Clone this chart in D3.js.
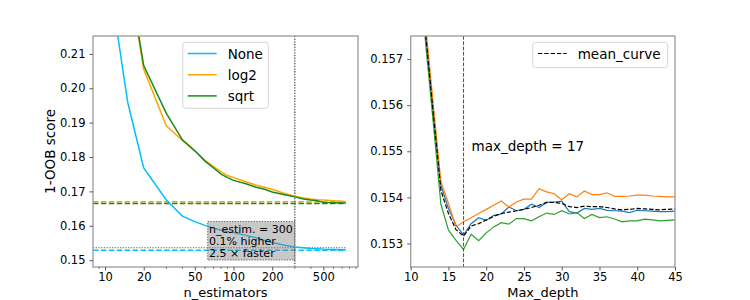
<!DOCTYPE html>
<html>
<head>
<meta charset="utf-8">
<script src="https://cdnjs.cloudflare.com/ajax/libs/d3/7.8.5/d3.min.js"></script>
<style>
  body { margin: 0; background: #fff; }
  svg text { font-family: "DejaVu Sans", sans-serif; fill: #000; }
</style>
</head>
<body>
<svg id="chart" width="750" height="300"></svg>
<script>
// ---- left panel : 1-OOB score vs n_estimators
var nEstimators = [10, 15, 20, 30, 40, 50, 60, 70, 80, 90, 100, 125, 150, 175, 200, 250, 300, 350, 400, 450, 500, 600, 700, 750];
var errNone = [0.240, 0.196, 0.1768, 0.1675, 0.1628, 0.1612, 0.1601, 0.1593, 0.1587, 0.1583, 0.1580, 0.1572, 0.1565, 0.1557, 0.1551, 0.1543, 0.1538, 0.1536, 0.1534, 0.1533, 0.1532, 0.1531, 0.1530, 0.1530];
var errLog2 = [0.270, 0.234, 0.2055, 0.1891, 0.1848, 0.1818, 0.1790, 0.1772, 0.1757, 0.1746, 0.1740, 0.1728, 0.1718, 0.1712, 0.1706, 0.1694, 0.1686, 0.1681, 0.1678, 0.1676, 0.1675, 0.1673, 0.1671, 0.1670];
var errSqrt = [0.270, 0.235, 0.2066, 0.1927, 0.1850, 0.1818, 0.1788, 0.1768, 0.1750, 0.1740, 0.1732, 0.1722, 0.1712, 0.1706, 0.1698, 0.1690, 0.1684, 0.1678, 0.1675, 0.1673, 0.1668, 0.1667, 0.1666, 0.1666];
var bestLevels = [0.1529, 0.1670, 0.1665];   // None, log2, sqrt
var seriesNames = ["None", "log2", "sqrt"];
var chosenN = 300, chosenErr = 0.1536;
var xTicksLeft = [10, 20, 50, 100, 200, 500];
var xMinorLeft = [9, 30, 40, 60, 70, 80, 90, 300, 400, 600, 700, 800, 900];
var yTicksLeft = [0.15, 0.16, 0.17, 0.18, 0.19, 0.20, 0.21];
var noteLines = ["n_estim. = 300", "0.1% higher", "2.5 \u00d7 faster"];

// ---- right panel : 1-OOB score vs max_depth
var maxDepth = [10, 11, 12, 13, 14, 15, 16, 17, 18, 19, 20, 21, 22, 23, 24, 25, 26, 27, 28, 29, 30, 31, 32, 33, 34, 35, 36, 37, 38, 39, 40, 41, 42, 43, 44, 45];
var depthNone = [0.1620, 0.1594, 0.1575, 0.1558, 0.15426, 0.15376, 0.15340, 0.15318, 0.15343, 0.15356, 0.15350, 0.15361, 0.15364, 0.15379, 0.15371, 0.15374, 0.15385, 0.15378, 0.15389, 0.15390, 0.15392, 0.15369, 0.15366, 0.15376, 0.15374, 0.15376, 0.15372, 0.15371, 0.15370, 0.15367, 0.15372, 0.15371, 0.15370, 0.15369, 0.15369, 0.15370];
var depthLog2 = [0.1622, 0.1596, 0.1577, 0.1560, 0.15434, 0.15387, 0.15336, 0.15347, 0.15356, 0.15365, 0.15374, 0.15383, 0.15392, 0.15379, 0.15390, 0.15396, 0.15396, 0.15419, 0.15412, 0.15408, 0.15395, 0.15408, 0.15401, 0.15414, 0.15406, 0.15406, 0.15410, 0.15402, 0.15402, 0.15403, 0.15405, 0.15405, 0.15403, 0.15402, 0.15401, 0.15401];
var depthSqrt = [0.1618, 0.1592, 0.1573, 0.1556, 0.15385, 0.15329, 0.15307, 0.15287, 0.15320, 0.15306, 0.15323, 0.15336, 0.15345, 0.15342, 0.15354, 0.15354, 0.15349, 0.15358, 0.15366, 0.15363, 0.15371, 0.15364, 0.15367, 0.15354, 0.15363, 0.15356, 0.15358, 0.15353, 0.15347, 0.15349, 0.15349, 0.15353, 0.15351, 0.15349, 0.15350, 0.15351];
var depthMean = [0.1620, 0.1594, 0.1575, 0.1558, 0.15415, 0.15365, 0.15330, 0.15316, 0.15338, 0.15343, 0.15351, 0.15359, 0.15365, 0.15368, 0.15371, 0.15374, 0.15378, 0.15383, 0.15389, 0.15389, 0.15387, 0.15380, 0.15378, 0.15381, 0.15380, 0.15380, 0.15378, 0.15375, 0.15373, 0.15374, 0.15376, 0.15375, 0.15374, 0.15373, 0.15374, 0.15375];
var bestDepth = 17;
var xTicksRight = [10, 15, 20, 25, 30, 35, 40, 45];
var yTicksRight = [0.153, 0.154, 0.155, 0.156, 0.157];

var leftColors = ["deepskyblue", "orange", "#1a8a1a"];
var rightColors = ["#1f77b4", "#ff7f0e", "#2ca02c"];

var svg = d3.select("#chart");
var top0 = 36, bottom0 = 267;

function frame(g, x0, x1) {
  g.append("rect")
    .attr("x", x0).attr("y", top0)
    .attr("width", x1 - x0).attr("height", bottom0 - top0)
    .attr("fill", "none").attr("stroke", "#9a9a9a").attr("stroke-width", 1.3);
}

function styleAxis(a) {
  a.select(".domain").remove();
  a.selectAll(".tick line").attr("stroke", "#333").attr("stroke-width", 0.8);
  a.selectAll(".tick text").attr("font-size", "11.5px").attr("font-family", "DejaVu Sans").attr("fill", "#000");
}

// ================= LEFT =================
var L = svg.append("g");
var xL = d3.scaleLog().domain([8.06, 931]).range([93, 358]);
var yL = d3.scaleLinear().domain([0.148, 0.2152]).range([bottom0, top0]);

svg.append("clipPath").attr("id", "clipL")
  .append("rect").attr("x", 93).attr("y", top0).attr("width", 265).attr("height", bottom0 - top0);
var plotL = L.append("g").attr("clip-path", "url(#clipL)");

// best-score reference levels
bestLevels.forEach(function (v, i) {
  plotL.append("line")
    .attr("x1", xL(8.06)).attr("x2", xL(750))
    .attr("y1", yL(v)).attr("y2", yL(v))
    .attr("stroke", leftColors[i]).attr("stroke-width", 1.5)
    .attr("stroke-dasharray", "5.5,2.4");
});

// chosen n_estimators markers
plotL.append("line")
  .attr("x1", xL(8.06)).attr("x2", xL(750))
  .attr("y1", yL(chosenErr)).attr("y2", yL(chosenErr))
  .attr("stroke", "#666").attr("stroke-width", 1.2).attr("stroke-dasharray", "1.3,1.4");
plotL.append("line")
  .attr("x1", xL(chosenN)).attr("x2", xL(chosenN))
  .attr("y1", top0).attr("y2", bottom0)
  .attr("stroke", "#555").attr("stroke-width", 1.3).attr("stroke-dasharray", "1.3,1.4");

var lineL = d3.line()
  .x(function (d) { return xL(d[0]); })
  .y(function (d) { return yL(d[1]); });

[errNone, errLog2, errSqrt].forEach(function (s, i) {
  plotL.append("path")
    .datum(d3.zip(nEstimators, s))
    .attr("d", lineL)
    .attr("fill", "none")
    .attr("stroke", leftColors[i])
    .attr("stroke-width", 1.5);
});

// annotation box
var noteX = 209, noteY = 233;
var note = L.append("g");
note.append("rect")
  .attr("x", xL(63)).attr("y", 221.5)
  .attr("width", xL(chosenN) - xL(63)).attr("height", 38.5)
  .attr("fill", "#808080").attr("fill-opacity", 0.43)
  .attr("stroke", "#666").attr("stroke-width", 1).attr("stroke-dasharray", "1.3,1.4");
note.selectAll("text").data(noteLines).enter().append("text")
  .attr("x", noteX)
  .attr("y", function (d, i) { return noteY + i * 12; })
  .attr("font-size", "11px")
  .text(function (d) { return d; });

frame(L, 93, 358);

var axL = L.append("g").attr("transform", "translate(0," + bottom0 + ")")
  .call(d3.axisBottom(xL).tickValues(xTicksLeft).tickFormat(d3.format("d")).tickSize(3.5).tickPadding(2));
styleAxis(axL);
L.append("g").attr("transform", "translate(0," + bottom0 + ")")
  .selectAll("line").data(xMinorLeft).enter().append("line")
  .attr("x1", function (d) { return xL(d); }).attr("x2", function (d) { return xL(d); })
  .attr("y1", 0).attr("y2", 2).attr("stroke", "#333").attr("stroke-width", 0.6);

var ayL = L.append("g").attr("transform", "translate(93,0)")
  .call(d3.axisLeft(yL).tickValues(yTicksLeft).tickFormat(d3.format(".2f")).tickSize(3.5).tickPadding(4));
styleAxis(ayL);

L.append("text").attr("x", 225.5).attr("y", 296.5).attr("text-anchor", "middle")
  .attr("font-size", "13px").text("n_estimators");
L.append("text").attr("transform", "translate(55,151.5) rotate(-90)").attr("text-anchor", "middle")
  .attr("font-size", "13.5px").text("1-OOB score");

// legend
var legL = L.append("g");
legL.append("rect").attr("x", 182.7).attr("y", 42.3).attr("width", 85.6).attr("height", 66)
  .attr("rx", 3).attr("fill", "#fff").attr("fill-opacity", 0.8)
  .attr("stroke", "#d6d6d6").attr("stroke-width", 1);
seriesNames.forEach(function (n, i) {
  var yy = 53.5 + i * 21.2;
  legL.append("line").attr("x1", 187.7).attr("x2", 216.7).attr("y1", yy).attr("y2", yy)
    .attr("stroke", leftColors[i]).attr("stroke-width", 1.5);
  legL.append("text").attr("x", 227.7).attr("y", yy + 5).attr("font-size", "13.5px").text(n);
});

// ================= RIGHT =================
var R = svg.append("g");
var xR = d3.scaleLinear().domain([10, 45]).range([410.7, 675]);
var yR = d3.scaleLinear().domain([0.15249, 0.1575]).range([bottom0, top0]);

svg.append("clipPath").attr("id", "clipR")
  .append("rect").attr("x", 410.7).attr("y", top0).attr("width", 264.3).attr("height", bottom0 - top0);
var plotR = R.append("g").attr("clip-path", "url(#clipR)");

var lineR = d3.line()
  .x(function (d) { return xR(d[0]); })
  .y(function (d) { return yR(d[1]); });

[depthNone, depthLog2, depthSqrt].forEach(function (s, i) {
  plotR.append("path")
    .datum(d3.zip(maxDepth, s))
    .attr("d", lineR)
    .attr("fill", "none")
    .attr("stroke", rightColors[i])
    .attr("stroke-width", 1.2);
});
plotR.append("path")
  .datum(d3.zip(maxDepth, depthMean))
  .attr("d", lineR)
  .attr("fill", "none")
  .attr("stroke", "#000")
  .attr("stroke-width", 1.2)
  .attr("stroke-dasharray", "4.4,1.9");

plotR.append("line")
  .attr("x1", xR(bestDepth)).attr("x2", xR(bestDepth))
  .attr("y1", top0).attr("y2", bottom0)
  .attr("stroke", "red").attr("stroke-width", 1).attr("stroke-dasharray", "3.7,1.6");

R.append("text").attr("x", xR(bestDepth) + 8).attr("y", 151)
  .attr("font-size", "13.5px").text("max_depth = " + bestDepth);

frame(R, 410.7, 675);

var axR = R.append("g").attr("transform", "translate(0," + bottom0 + ")")
  .call(d3.axisBottom(xR).tickValues(xTicksRight).tickFormat(d3.format("d")).tickSize(3.5).tickPadding(2));
styleAxis(axR);
var ayR = R.append("g").attr("transform", "translate(410.7,0)")
  .call(d3.axisLeft(yR).tickValues(yTicksRight).tickFormat(d3.format(".3f")).tickSize(3.5).tickPadding(4));
styleAxis(ayR);

R.append("text").attr("x", 542.8).attr("y", 296.5).attr("text-anchor", "middle")
  .attr("font-size", "13px").text("Max_depth");

var legR = R.append("g");
legR.append("rect").attr("x", 532.7).attr("y", 42.3).attr("width", 135).attr("height", 25.4)
  .attr("rx", 3).attr("fill", "#fff").attr("fill-opacity", 0.8)
  .attr("stroke", "#d6d6d6").attr("stroke-width", 1);
legR.append("line").attr("x1", 538).attr("x2", 566.7).attr("y1", 53.5).attr("y2", 53.5)
  .attr("stroke", "#000").attr("stroke-width", 1.2).attr("stroke-dasharray", "4.4,1.9");
legR.append("text").attr("x", 577.7).attr("y", 58.5).attr("font-size", "13.5px").text("mean_curve");
</script>
</body>
</html>
